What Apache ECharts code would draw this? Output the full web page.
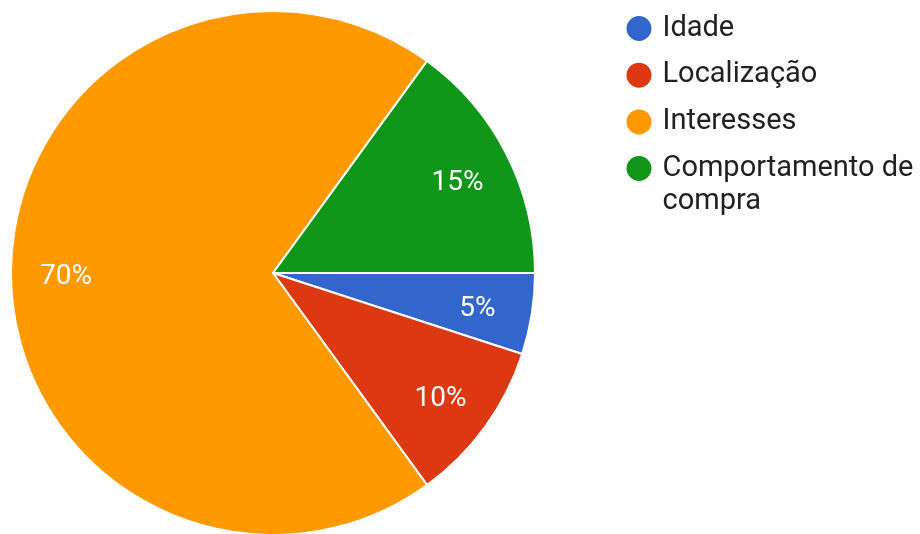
<!DOCTYPE html>
<html>
<head>
<meta charset="utf-8">
<script src="https://cdn.jsdelivr.net/npm/echarts@6/dist/echarts.min.js"></script>
<style>
  html, body { margin: 0; padding: 0; background: #fff; }
  #chart { width: 920px; height: 534px; }
</style>
</head>
<body>
<div id="chart"></div>
<script>
// Segmentação de público: participação de cada critério
const categories = ['Idade', 'Localização', 'Interesses', 'Comportamento de compra'];
const shares = [5, 10, 70, 15];
const colors = ['#3366cc', '#dc3912', '#ff9900', '#109618'];

const FONT = 'Roboto, "Noto Sans", Arial, sans-serif';
const data = categories.map((name, i) => ({ name, value: shares[i] }));

const legendText = {
  fontFamily: FONT,
  fontSize: 29,
  color: '#212121',
  lineHeight: 33,
  padding: [0, 0, 0, 5]
};
const legendBase = {
  orient: 'vertical',
  left: 624.5,
  padding: 0,
  itemGap: 13.7,
  itemWidth: 27,
  itemHeight: 27,
  icon: 'circle',
  selectedMode: false,
  textStyle: legendText
};

const chart = echarts.init(document.getElementById('chart'), null, { renderer: 'canvas' });

chart.setOption({
  animation: false,
  color: colors,
  legend: [
    Object.assign({}, legendBase, {
      top: 12,
      data: categories.slice(0, 3)
    }),
    // the long name wraps onto a second line below its marker
    Object.assign({}, legendBase, {
      top: 119,
      data: categories.slice(3),
      formatter: () => '\nComportamento de\ncompra'
    })
  ],
  series: [
    {
      type: 'pie',
      center: [273, 273],
      radius: [0, 262],
      startAngle: 0,
      clockwise: true,
      avoidLabelOverlap: false,
      itemStyle: { borderColor: '#ffffff', borderWidth: 2 },
      label: { show: false },
      labelLine: { show: false },
      emphasis: { disabled: true },
      data: data
    },
    {
      // transparent ring carrying the percentage labels
      type: 'pie',
      center: [273, 273],
      radius: [150, 258],
      startAngle: 0,
      clockwise: true,
      silent: true,
      avoidLabelOverlap: false,
      itemStyle: { color: 'rgba(0,0,0,0)', borderWidth: 0 },
      label: {
        show: true,
        position: 'inside',
        formatter: p => p.value + '%',
        fontFamily: FONT,
        fontSize: 28,
        color: '#ffffff'
      },
      labelLayout: { dy: 4 },
      labelLine: { show: false },
      emphasis: { disabled: true },
      data: data
    }
  ]
});
</script>
</body>
</html>
